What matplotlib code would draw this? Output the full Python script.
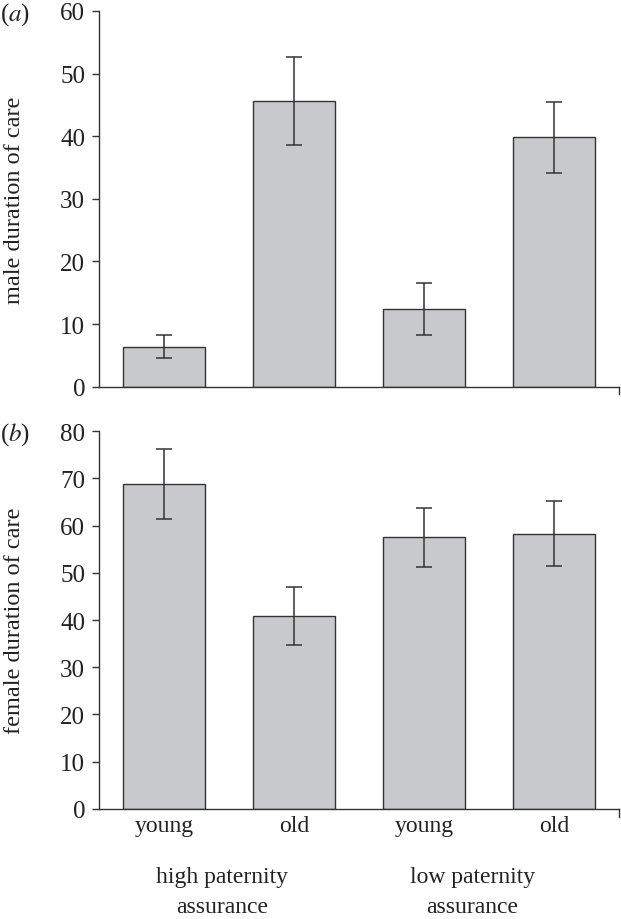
import numpy as np
import matplotlib.pyplot as plt

plt.rcParams['font.family'] = ['Liberation Serif', 'DejaVu Serif']
plt.rcParams['mathtext.fontset'] = 'stix'

# data
ages = ["young", "old", "young", "old"]
groups = ["high paternity\nassurance", "low paternity\nassurance"]
male_mean = [6.4, 45.6, 12.4, 39.9]
male_lo = [4.6, 38.6, 8.2, 34.2]
male_hi = [8.3, 52.6, 16.6, 45.5]
female_mean = [68.7, 40.8, 57.5, 58.2]
female_lo = [61.4, 34.7, 51.2, 51.5]
female_hi = [76.2, 46.9, 63.8, 65.1]

bar_col = '#c8c9cb'
line_col = '#333333'
txt_col = '#222222'
x = np.arange(len(ages))

fig = plt.figure(figsize=(6.21, 9.2), dpi=100)
ax1 = fig.add_axes([0.1594, 0.5786, 0.8374, 0.4084])
ax2 = fig.add_axes([0.1594, 0.1196, 0.8374, 0.4108])


def panel(ax, mean, lo, hi, ymax, ylabel, tag):
    mean = np.array(mean)
    yerr = [mean - np.array(lo), np.array(hi) - mean]
    ax.bar(x, mean, width=0.63, color=bar_col, edgecolor=line_col, linewidth=1.0)
    ax.errorbar(x, mean, yerr=yerr, fmt='none', ecolor=line_col,
                elinewidth=1.1, capsize=6, capthick=1.1)
    ax.set_xlim(-0.5, 3.5)
    ax.set_ylim(0, ymax)
    ax.set_yticks(np.arange(0, ymax + 1, 10))
    for s in ['top', 'right']:
        ax.spines[s].set_visible(False)
    for s in ['left', 'bottom']:
        ax.spines[s].set_color(line_col)
        ax.spines[s].set_linewidth(1.0)
    ax.tick_params(axis='y', direction='out', length=5, width=1.0,
                   color=line_col, labelsize=18, pad=5, labelcolor=txt_col)
    ax.set_ylabel(ylabel, fontsize=17.5, color=txt_col)
    ax.yaxis.set_label_coords(-0.143, 0.5)
    # tick at right end of the x axis
    ax.plot([3.5, 3.5], [0, -0.02 * ymax], color=line_col, lw=1.0, clip_on=False)
    fig.text(0.0, ax.get_position().y1 - 0.003, tag, fontsize=18, va='center',
             ha='left', color=txt_col)


panel(ax1, male_mean, male_lo, male_hi, 60, "male duration of care", r"($\mathit{a}$)")
panel(ax2, female_mean, female_lo, female_hi, 80, "female duration of care", r"($\mathit{b}$)")

ax1.set_xticks([])
ax2.set_xticks(x)
ax2.set_xticklabels(ages, fontsize=17, color=txt_col)
ax2.tick_params(axis='x', length=0, pad=4)

for gx, g in zip([0.45, 2.37], groups):
    ax2.text(gx, -12.0, g, ha='center', va='top', fontsize=17,
             color=txt_col, linespacing=1.6)

fig.savefig("out.png", dpi=100)
